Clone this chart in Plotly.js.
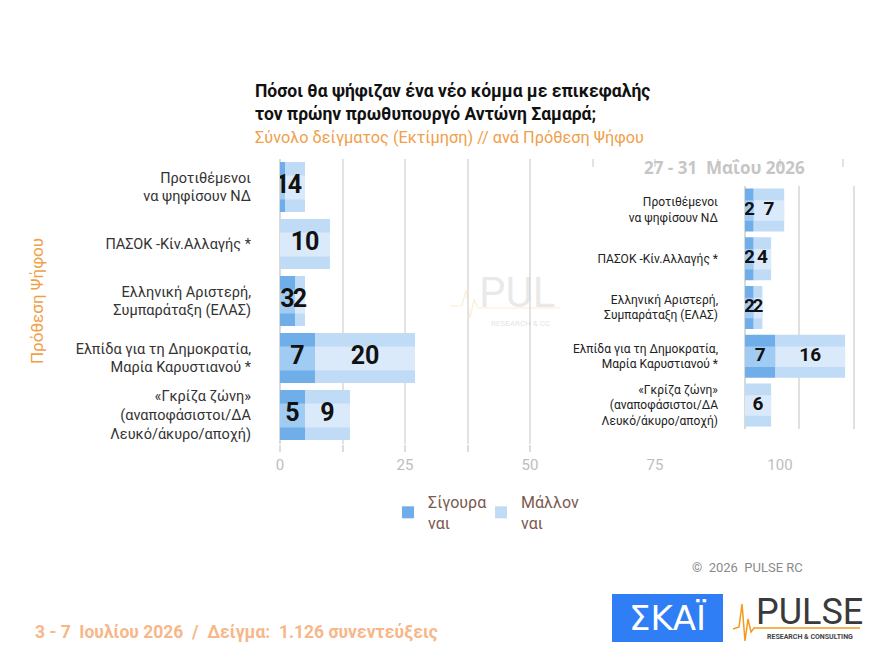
<!DOCTYPE html>
<html><head><meta charset="utf-8">
<script src="https://cdn.plot.ly/plotly-3.0.1.min.js"></script>
<style>html,body{margin:0;padding:0;background:#fff}#chart{width:880px;height:660px}</style>
</head><body><div id="chart"></div>
<script>
// ---------- data ----------
const categories = [
  "Προτιθέμενοι<br>να ψηφίσουν ΝΔ",
  "ΠΑΣΟΚ -Κίν.Αλλαγής *",
  "Ελληνική Αριστερή,<br>Συμπαράταξη (ΕΛΑΣ)",
  "Ελπίδα για τη Δημοκρατία,<br>Μαρία Καρυστιανού *",
  "«Γκρίζα ζώνη»<br>(αναποφάσιστοι/ΔΑ<br>Λευκό/άκυρο/αποχή)"
];
const sureJuly  = [1, 0, 3, 7, 5];
const maybeJuly = [4, 10, 2, 20, 9];
const sureMay   = [2, 2, 2, 7, 0];
const maybeMay  = [7, 4, 2, 16, 6];
const seriesNames = ["Σίγουρα<br>ναι", "Μάλλον<br>ναι"];
const xTickVals = [0, 25, 50, 75, 100];

// ---------- helpers ----------
const W = 880, H = 660;
const px = x => x / W;
const py = y => 1 - y / H;

const C = {
  sure: '#6FAEE9', sureHi: '#A0CBF2',
  maybe: '#BFDBF6', maybeHi: '#DBEAFA'
};

function barTraces(sure, maybe, xa, ya, legend, numSize) {
  const common = {type: 'bar', orientation: 'h', y: categories, xaxis: xa, yaxis: ya, hoverinfo: 'skip'};
  const zeros = sure.map(() => 0);
  return [
    Object.assign({}, common, {x: sure, base: zeros, width: 0.88, marker: {color: C.sure, line: {width: 0}},
      name: seriesNames[0], showlegend: legend, legend: 'legend'}),
    Object.assign({}, common, {x: maybe, base: sure, width: 0.88, marker: {color: C.maybe, line: {width: 0}},
      name: seriesNames[1], showlegend: legend, legend: 'legend2'}),
    Object.assign({}, common, {x: sure, base: zeros, width: 0.42, offset: -0.2, marker: {color: C.sureHi, line: {width: 0}},
      showlegend: false}),
    Object.assign({}, common, {x: maybe, base: sure, width: 0.42, offset: -0.2, marker: {color: C.maybeHi, line: {width: 0}},
      showlegend: false}),
    {type: 'scatter', mode: 'text', xaxis: xa, yaxis: ya, y: categories,
      x: sure.map(v => v / 2), text: sure.map(v => v > 0 ? String(v) : ''),
      textfont: {family: 'Roboto, sans-serif', size: numSize, color: '#111', weight: 'bold'},
      showlegend: false, hoverinfo: 'skip'},
    {type: 'scatter', mode: 'text', xaxis: xa, yaxis: ya, y: categories,
      x: sure.map((s, i) => s + maybe[i] / 2), text: maybe.map(v => v > 0 ? String(v) : ''),
      textfont: {family: 'Roboto, sans-serif', size: numSize, color: '#111', weight: 'bold'},
      showlegend: false, hoverinfo: 'skip'}
  ];
}

const traces = [].concat(
  barTraces(sureJuly, maybeJuly, 'x', 'y', true, 25),
  [{type: 'scatter', x: [], y: [], xaxis: 'x2', yaxis: 'y2', showlegend: false, hoverinfo: 'skip'}],
  barTraces(sureMay, maybeMay, 'x3', 'y3', false, 19)
);

const heart = [[733,629],[739,627],[742,604],[745,641],[748,619],[751,632],[754,628],[860,628]];
const heartPath = heart.map((p, i) => (i ? 'L' : 'M') + px(p[0]).toFixed(4) + ',' + py(p[1]).toFixed(4)).join(' ');
const wmHeart = [[450,306],[462,306],[466,290],[470,318],[474,300],[478,308],[560,308]];
const wmPath = wmHeart.map((p, i) => (i ? 'L' : 'M') + px(p[0]).toFixed(4) + ',' + py(p[1]).toFixed(4)).join(' ');

const legendStyle = {
  orientation: 'v', xanchor: 'left', y: py(485), yanchor: 'top',
  font: {size: 16, color: '#7B5A4F'}, bgcolor: 'rgba(0,0,0,0)'
};

const layout = {
  width: W, height: H,
  margin: {l: 0, r: 0, t: 0, b: 0},
  paper_bgcolor: '#ffffff', plot_bgcolor: '#ffffff',
  barmode: 'overlay',
  font: {family: 'Roboto, sans-serif', color: '#333'},
  title: {
    text: "<b>Πόσοι θα ψήφιζαν ένα νέο κόμμα με επικεφαλής</b><br><b>τον πρώην πρωθυπουργό Αντώνη Σαμαρά;</b><br><span style='color:#F0A04B;font-size:16.3px'>Σύνολο δείγματος (Εκτίμηση) // ανά Πρόθεση Ψήφου</span>",
    x: px(255), xref: 'paper', xanchor: 'left',
    y: py(97), yref: 'paper', yanchor: 'top',
    font: {family: 'Roboto, sans-serif', size: 17.5, color: '#111'}
  },
  xaxis: {
    domain: [px(280), 1], range: [0, 120], anchor: 'y',
    tickmode: 'array', tickvals: xTickVals,
    ticks: 'outside', ticklen: 7, tickwidth: 1.5, tickcolor: '#DDDDDD',
    tickfont: {size: 15, color: '#BDBDBD'},
    showgrid: true, gridcolor: '#E3E3E3', gridwidth: 1.5,
    zeroline: true, zerolinecolor: '#DADADA', zerolinewidth: 1.5,
    minor: {dtick: 12.5, tick0: 0, showgrid: true, gridcolor: '#E3E3E3', gridwidth: 1.5,
            ticks: 'outside', ticklen: 7, tickcolor: '#DDDDDD', tickwidth: 1.5},
    showline: false, fixedrange: true
  },
  yaxis: {
    domain: [py(443.5), py(158.5)], range: [4.5, -0.5], type: 'category', anchor: 'x',
    ticks: '', ticklabelstandoff: 28, tickfont: {size: 14.5, color: '#333'},
    showgrid: false, zeroline: false, showline: false, fixedrange: true,
    title: {text: 'Πρόθεση Ψήφου', font: {size: 17, color: '#F0A04B'}, standoff: 27}
  },
  xaxis2: {domain: [px(560), 1], range: [0, 1], anchor: 'y2', visible: false, fixedrange: true},
  yaxis2: {domain: [py(452), py(167)], range: [0, 1], anchor: 'x2', visible: false, fixedrange: true},
  xaxis3: {
    domain: [px(745), 1], range: [0, 31.03], anchor: 'y3',
    tickmode: 'linear', tick0: 0, dtick: 12.5, showticklabels: false, ticks: '',
    showgrid: true, gridcolor: '#E0E0E0', gridwidth: 1.5,
    zeroline: true, zerolinecolor: '#DADADA', zerolinewidth: 1.5, fixedrange: true
  },
  yaxis3: {
    domain: [py(429.4), py(185.6)], range: [4.5, -0.5], type: 'category', anchor: 'x3',
    ticks: '', ticklabelstandoff: 26, tickfont: {size: 12, color: '#222'},
    showgrid: false, zeroline: false, fixedrange: true
  },
  legend: Object.assign({}, legendStyle, {x: px(388)}),
  legend2: Object.assign({}, legendStyle, {x: px(481)}),
  shapes: [
    {type: 'path', xref: 'paper', yref: 'paper', path: wmPath, line: {color: 'rgba(243,154,30,0.18)', width: 1.2}, layer: 'below'},
    {type: 'rect', xref: 'paper', yref: 'paper', x0: px(612), x1: px(723), y0: py(642), y1: py(594),
     fillcolor: '#2F7EF6', line: {width: 0}, layer: 'above'},
    {type: 'path', xref: 'paper', yref: 'paper', path: heartPath, line: {color: '#F39A1E', width: 1.5}, layer: 'above'}
  ],
  annotations: [
    {text: '<b>27 - 31  Μαΐου 2026</b>', xref: 'paper', yref: 'paper', x: px(724), y: py(168),
     xanchor: 'center', yanchor: 'middle', showarrow: false,
     font: {family: 'Open Sans, sans-serif', size: 17, color: '#C6C6C6'}},
    {text: 'PUL', xref: 'paper', yref: 'paper', x: px(517), y: py(292), xanchor: 'center', yanchor: 'middle',
     showarrow: false, font: {family: 'Roboto, sans-serif', size: 42, color: 'rgba(180,180,180,0.28)'}},
    {text: 'RESEARCH & CC', xref: 'paper', yref: 'paper', x: px(520), y: py(323), xanchor: 'center', yanchor: 'middle',
     showarrow: false, font: {family: 'Roboto, sans-serif', size: 8, color: 'rgba(170,170,170,0.35)'}},
    {text: '©  2026  PULSE RC', xref: 'paper', yref: 'paper', x: px(747), y: py(567), xanchor: 'center', yanchor: 'middle',
     showarrow: false, font: {family: 'Roboto, sans-serif', size: 13, color: '#8A8A8A'}},
    {text: '<b>3 - 7  Ιουλίου 2026  /  Δείγμα:  1.126 συνεντεύξεις</b>', xref: 'paper', yref: 'paper',
     x: px(33), y: py(632), xanchor: 'left', yanchor: 'middle', showarrow: false,
     font: {family: 'Roboto, sans-serif', size: 17.5, color: '#F7B788'}},
    {text: 'ΣΚΑΪ', xref: 'paper', yref: 'paper', x: px(667), y: py(618), xanchor: 'center', yanchor: 'middle',
     showarrow: false, font: {family: 'DejaVu Sans, sans-serif', size: 34, color: '#ffffff'}},
    {text: 'PULSE', xref: 'paper', yref: 'paper', x: px(809), y: py(612), xanchor: 'center', yanchor: 'middle',
     showarrow: false, font: {family: 'Roboto, sans-serif', size: 36, color: '#3A3A3A'}},
    {text: '<b>RESEARCH & CONSULTING</b>', xref: 'paper', yref: 'paper', x: px(810), y: py(637), xanchor: 'center', yanchor: 'middle',
     showarrow: false, font: {family: 'Roboto, sans-serif', size: 7, color: '#444'}}
  ]
};

Plotly.newPlot('chart', traces, layout, {displayModeBar: false, responsive: false});
</script>
</body></html>
